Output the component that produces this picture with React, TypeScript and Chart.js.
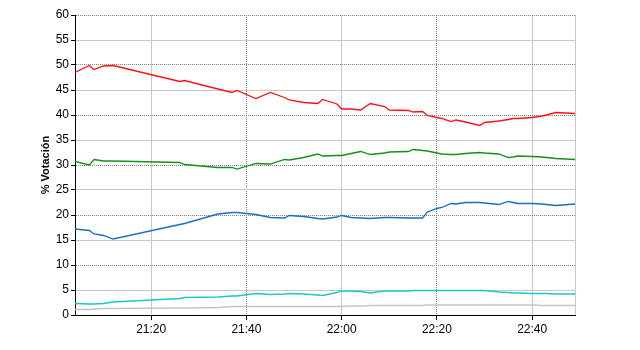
import React, { useEffect, useRef } from "react";
import { Chart, registerables } from "chart.js";

Chart.register(...registerables);

// Sample times (HH:MM)
const times = [
  "21:04", "21:07", "21:08", "21:10", "21:12", "21:26", "21:27", "21:34", "21:37", "21:38",
  "21:42", "21:45", "21:48", "21:49", "21:52", "21:55", "21:56", "21:59", "22:00", "22:02",
  "22:04", "22:06", "22:09", "22:10", "22:14", "22:15", "22:17", "22:18", "22:20", "22:21",
  "22:23", "22:24", "22:26", "22:29", "22:30", "22:33", "22:35", "22:36", "22:37", "22:40",
  "22:42", "22:43", "22:45", "22:49",
];

const redValues = [
  48.5, 49.9, 49.1, 49.8, 49.9, 46.7, 46.9, 45.2, 44.5, 44.9,
  43.3, 44.5, 43.5, 43.0, 42.5, 42.3, 43.1, 42.2, 41.2, 41.2,
  41.0, 42.3, 41.7, 41.0, 40.9, 40.6, 40.7, 39.9, 39.5, 39.3,
  38.7, 39.0, 38.6, 37.9, 38.5, 38.8, 39.1, 39.3, 39.3, 39.5,
  39.8, 40.0, 40.5, 40.3,
];

const greenValues = [
  30.7, 30.0, 31.1, 30.8, 30.8, 30.5, 30.1, 29.5, 29.5, 29.2,
  30.3, 30.2, 31.1, 31.0, 31.5, 32.2, 31.8, 31.9, 31.9, 32.3,
  32.7, 32.1, 32.4, 32.6, 32.7, 33.1, 32.9, 32.8, 32.4, 32.2,
  32.1, 32.1, 32.3, 32.5, 32.4, 32.2, 31.5, 31.6, 31.8, 31.7,
  31.6, 31.5, 31.3, 31.1,
];

const blueValues = [
  17.2, 16.9, 16.2, 15.9, 15.2, 18.1, 18.3, 20.2, 20.5, 20.5,
  20.1, 19.5, 19.4, 19.9, 19.7, 19.3, 19.2, 19.6, 19.9, 19.5,
  19.4, 19.3, 19.5, 19.5, 19.4, 19.4, 19.4, 20.6, 21.3, 21.5,
  22.3, 22.2, 22.5, 22.5, 22.4, 22.1, 22.7, 22.5, 22.3, 22.3,
  22.2, 22.1, 21.9, 22.2,
];

const cyanValues = [
  2.3, 2.2, 2.2, 2.3, 2.6, 3.3, 3.5, 3.6, 3.8, 3.8,
  4.3, 4.1, 4.2, 4.3, 4.2, 4.0, 3.9, 4.5, 4.8, 4.8,
  4.7, 4.4, 4.8, 4.8, 4.8, 4.9, 4.9, 4.9, 4.9, 4.9,
  4.9, 4.9, 4.9, 4.9, 4.9, 4.6, 4.5, 4.4, 4.4, 4.3,
  4.3, 4.3, 4.2, 4.2,
];

const greyValues = [
  1.1, 1.1, 1.2, 1.3, 1.3, 1.4, 1.4, 1.5, 1.7, 1.7,
  1.7, 1.7, 1.7, 1.7, 1.7, 1.7, 1.7, 1.7, 1.7, 1.8,
  1.8, 1.9, 1.9, 1.9, 1.9, 1.9, 1.9, 2.0, 2.0, 2.0,
  2.0, 2.0, 2.0, 2.0, 2.0, 2.0, 2.0, 2.0, 2.0, 2.0,
  1.9, 1.9, 1.9, 1.9,
];

const xTickLabels = ["21:20", "21:40", "22:00", "22:20", "22:40"];
const xMin = "21:04";
const xMax = "22:49";
const yTitle = "% Votación";

const toMin = (s: string) => {
  const [h, m] = s.split(":").map(Number);
  return h * 60 + m;
};
const fmt = (v: number) => {
  const h = Math.floor(v / 60);
  const m = Math.round(v - h * 60);
  return `${h}:${m < 10 ? "0" : ""}${m}`;
};

const series = [
  { values: redValues, color: "#ff1010" },
  { values: greenValues, color: "#159015" },
  { values: blueValues, color: "#1a6cc4" },
  { values: cyanValues, color: "#18c8c8" },
  { values: greyValues, color: "#c4c4c4" },
];

const DOT = "#808080";
const LIGHT = "#c8c8c8";
const dottedX = new Set(["21:40", "22:20"].map(toMin));

const rightBorder = {
  id: "rightBorder",
  afterDatasetsDraw(chart: any) {
    const { ctx, chartArea } = chart;
    ctx.save();
    ctx.strokeStyle = LIGHT;
    ctx.lineWidth = 1;
    ctx.beginPath();
    const x = Math.round(chartArea.right) + 0.5;
    ctx.moveTo(x, chartArea.top);
    ctx.lineTo(x, chartArea.bottom);
    ctx.stroke();
    ctx.restore();
  },
};

export default function App() {
  const ref = useRef<HTMLCanvasElement>(null);

  useEffect(() => {
    if (!ref.current) return;
    const xs = times.map(toMin);
    const chart = new Chart(ref.current, {
      type: "line",
      data: {
        datasets: series.map((s) => ({
          data: s.values.map((v, i) => ({ x: xs[i], y: v })),
          borderColor: s.color,
          borderWidth: 1.3,
          pointRadius: 0,
          tension: 0,
          fill: false,
        })),
      },
      options: {
        animation: false,
        responsive: false,
        maintainAspectRatio: false,
        layout: { padding: { left: 0, right: 65, top: 15, bottom: 0 } },
        plugins: { legend: { display: false }, tooltip: { enabled: false } },
        scales: {
          x: {
            type: "linear",
            min: toMin(xMin),
            max: toMin(xMax),
            afterBuildTicks: (scale: any) => {
              scale.ticks = xTickLabels.map((l) => ({ value: toMin(l) }));
            },
            afterFit: (scale: any) => {
              scale.height = 35;
            },
            ticks: {
              callback: (v: any) => fmt(Number(v)),
              color: "#000",
              font: { family: "Arial, 'Liberation Sans'", size: 12 },
              maxRotation: 0,
              autoSkip: false,
              padding: 2,
            },
            grid: {
              color: (c: any) =>
                c.tick && dottedX.has(c.tick.value) ? DOT : LIGHT,
              lineWidth: 1,
              tickColor: "#000",
              tickLength: 5,
            },
            border: {
              color: "#000",
              width: 1,
              dash: (c: any) =>
                c.tick && dottedX.has(c.tick.value) ? [1, 1] : [],
            },
          },
          y: {
            min: 0,
            max: 60,
            afterFit: (scale: any) => {
              scale.width = 75;
            },
            ticks: {
              stepSize: 5,
              color: "#000",
              font: { family: "Arial, 'Liberation Sans'", size: 12 },
              padding: 2,
            },
            title: {
              display: true,
              text: yTitle,
              color: "#000",
              font: { family: "Arial, 'Liberation Sans'", size: 11, weight: "bold" },
              padding: { top: 39, bottom: 0 },
            },
            grid: {
              color: (c: any) =>
                c.tick && c.tick.value % 10 === 0 ? DOT : LIGHT,
              lineWidth: 1,
              tickColor: "#000",
              tickLength: 4,
            },
            border: {
              color: "#000",
              width: 1,
              dash: (c: any) =>
                c.tick && c.tick.value % 10 === 0 ? [1, 1] : [],
            },
          },
        },
      },
      plugins: [rightBorder],
    });
    return () => chart.destroy();
  }, []);

  return (
    <div style={{ position: "fixed", left: 0, top: 0, width: 640, height: 350, background: "#fff" }}>
      <canvas ref={ref} width={640} height={350} style={{ width: 640, height: 350 }} />
    </div>
  );
}
